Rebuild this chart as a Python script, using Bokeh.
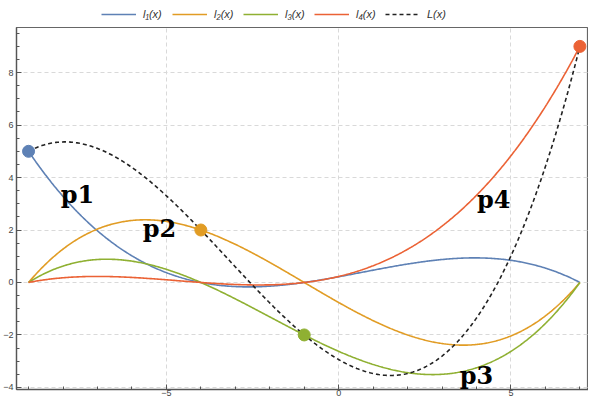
import numpy as np
from bokeh.plotting import figure
from bokeh.layouts import column
from bokeh.models import Range1d, FixedTicker, Legend, LegendItem, Label
from bokeh.embed import file_html
from bokeh.resources import INLINE

# interpolation nodes
node_x = [-9, -4, -1, 7]
node_y = [5, 2, -2, 9]
point_labels = ["p1", "p2", "p3", "p4"]
label_x = [-7.58, -5.2, 4.0, 4.5]
label_y = [3.34, 2.06, -3.53, 3.15]
legend_labels = ["l\u2081(x)", "l\u2082(x)", "l\u2083(x)", "l\u2084(x)", "L(x)"]
x_major = [-5, 0, 5]
y_major = [-4, -2, 0, 2, 4, 6, 8]

colors = ["#5E81B5", "#E19C24", "#8FB032", "#EB6235"]
dash_color = "#222222"

xs = np.linspace(node_x[0], node_x[-1], 500)


def basis(i, x):
    out = np.ones_like(x)
    for j, xj in enumerate(node_x):
        if j != i:
            out = out * (x - xj) / (node_x[i] - xj)
    return out


curves = [(node_y[i] * basis(i, xs)).tolist() for i in range(len(node_x))]
total = np.sum(np.array(curves), axis=0).tolist()
xs = xs.tolist()

# ---------------- main plot ----------------
p = figure(width=588, height=372, x_range=Range1d(-9.35, 7.25), y_range=Range1d(-4.08, 9.72),
           output_backend="svg", toolbar_location=None,
           min_border_left=12, min_border_right=0, min_border_top=1, min_border_bottom=0)

xt = FixedTicker(ticks=x_major, minor_ticks=list(range(-9, 8)))
yt = FixedTicker(ticks=y_major, minor_ticks=[float(v) for v in np.arange(-4, 9.6, 0.5)])
p.xaxis.ticker = xt
p.yaxis.ticker = yt
p.xgrid.ticker = xt
p.ygrid.ticker = yt

for ax in [p.xaxis[0], p.yaxis[0]]:
    ax.axis_line_color = "#555555"
    ax.axis_line_width = 1.3
    ax.major_tick_in = 5
    ax.major_tick_out = 0
    ax.minor_tick_in = 3
    ax.minor_tick_out = 0
    ax.major_tick_line_color = "#555555"
    ax.minor_tick_line_color = "#555555"
    ax.major_label_text_font = "Liberation Sans"
    ax.major_label_text_font_size = "9px"
    ax.major_label_text_color = "#444444"
p.xaxis.major_label_standoff = 0
p.yaxis.major_label_standoff = 3

p.outline_line_color = "#666666"
p.outline_line_width = 1.2
p.xgrid.grid_line_dash = "4 3"
p.ygrid.grid_line_dash = "4 3"
p.xgrid.grid_line_color = "#d9d9d9"
p.ygrid.grid_line_color = "#d9d9d9"

for i in range(4):
    p.line(xs, curves[i], line_color=colors[i], line_width=1.6)
p.line(xs, total, line_color=dash_color, line_width=1.6, line_dash="4 3")

for i in range(4):
    p.scatter([node_x[i]], [node_y[i]], size=12, fill_color=colors[i], line_color=colors[i])

for i in range(4):
    p.add_layout(Label(x=label_x[i], y=label_y[i], text=point_labels[i], text_font="DejaVu Serif",
                       text_font_style="bold", text_font_size="24px", text_align="center",
                       text_baseline="middle", text_color="black"))

# ---------------- legend strip ----------------
lg = figure(width=588, height=26, x_range=Range1d(0, 1), y_range=Range1d(0, 1),
            output_backend="svg", toolbar_location=None, min_border=0,
            x_axis_location=None, y_axis_location=None)
lg.outline_line_color = None
lg.grid.visible = False
items = []
for i in range(4):
    r = lg.line([2, 3], [2, 3], line_color=colors[i], line_width=1.6)
    items.append(LegendItem(label=legend_labels[i], renderers=[r]))
r = lg.line([2, 3], [2, 3], line_color=dash_color, line_width=1.6, line_dash="4 3")
items.append(LegendItem(label=legend_labels[4], renderers=[r]))

legend = Legend(items=items, orientation="horizontal", location=(85, 5),
                label_text_font="Liberation Sans", label_text_font_style="italic",
                label_text_font_size="11px", label_text_color="#333333",
                glyph_width=35, glyph_height=14, spacing=9, padding=0, margin=0,
                border_line_color=None, background_fill_alpha=0, label_standoff=7)
lg.add_layout(legend)

layout = column(lg, p, spacing=0)
open("out.html", "w").write(file_html(layout, INLINE))
